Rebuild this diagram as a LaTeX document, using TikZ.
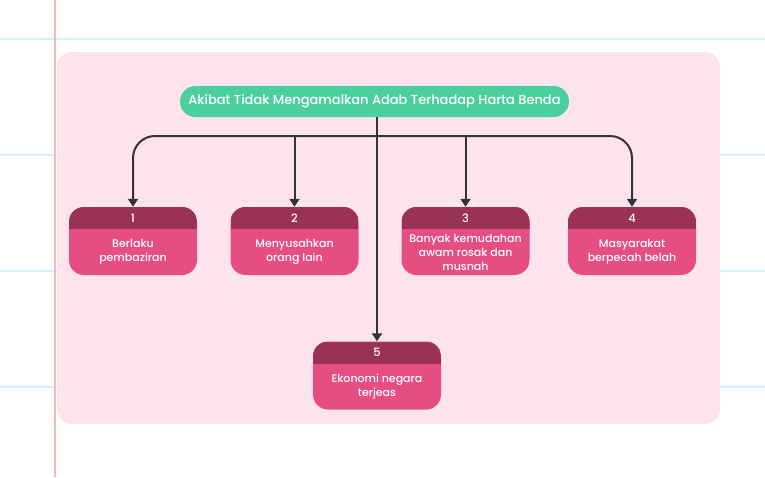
\documentclass[tikz,border=0pt]{standalone}
\usepackage{fontspec}
\setmainfont{Poppins Medium}
\usetikzlibrary{arrows.meta}
\definecolor{panelpink}{HTML}{FDE3EC}
\definecolor{rulblue}{HTML}{D3F0FC}
\definecolor{rulred}{HTML}{F9B6B6}
\definecolor{titlegreen}{HTML}{4CCF9E}
\definecolor{headred}{HTML}{9A3254}
\definecolor{bodyred}{HTML}{E64E80}
\definecolor{linegrey}{HTML}{333333}
\tikzset{
	title/.style={fill=titlegreen, rounded corners=15.5pt, minimum width=389pt, minimum height=31pt, text=white, font=\fontsize{13}{15}\selectfont},
	box/.style={fill=bodyred, rounded corners=15pt, minimum width=128pt, minimum height=68pt, inner sep=0pt,
		path picture={\fill[headred, sharp corners] (path picture bounding box.north west) rectangle ([yshift=-22pt]path picture bounding box.north east);}},
	num/.style={text=white, font=\fontsize{11.5}{13}\selectfont},
	txt/.style={text=white, align=center, font=\fontsize{11}{14}\selectfont},
	arr/.style={draw=linegrey, line width=2pt, -{Triangle[width=10pt,length=8pt]}}
}
\begin{document}
\begin{tikzpicture}[x=1pt,y=-1pt]
	\useasboundingbox (0,0) rectangle (765,477);
	
	\draw[rulblue, line width=2pt] (0,38.5) -- (765,38.5);
	\draw[rulblue, line width=2pt] (0,154.5) -- (765,154.5);
	\draw[rulblue, line width=2pt] (0,270.5) -- (765,270.5);
	\draw[rulblue, line width=2pt] (0,386.5) -- (765,386.5);
	\draw[rulred, line width=2pt] (55,0) -- (55,477);
	\fill[panelpink, rounded corners=15pt] (57,52) rectangle (720,424);
	
	\node[title] (top) at (374.5,101.5) {Akibat Tidak Mengamalkan Adab Terhadap Harta Benda};
	
	\node[box] (b1) at (133,241) {};
	\node[box] (b2) at (294.5,241) {};
	\node[box] (b3) at (465.5,241) {};
	\node[box] (b4) at (632,241) {};
	\node[box] (b5) at (377,375.5) {};
	
	\node[num] (n1) at (133,218) {1};
	\node[num] (n2) at (294.5,218) {2};
	\node[num] (n3) at (465.5,218) {3};
	\node[num] (n4) at (632,218) {4};
	\node[num] (n5) at (377,352.5) {5};
	
	\node[txt] (t1) at (133,252) {Berlaku\\pembaziran};
	\node[txt] (t2) at (294.5,252) {Menyusahkan\\orang lain};
	\node[txt] (t3) at (465.5,252) {Banyak kemudahan\\awam rosak dan\\musnah};
	\node[txt] (t4) at (632,252) {Masyarakat\\berpecah belah};
	\node[txt] (t5) at (377,386.5) {Ekonomi negara\\terjeas};
	
	\coordinate (bus) at (377,136);
	\draw[arr] (top.south -| b5.north) -- (b5.north);
	\draw[arr, rounded corners=22pt] (bus) -| (b1.north);
	\draw[arr, rounded corners=22pt] (bus) -| (b4.north);
	\draw[arr] (bus -| b2.north) -- (b2.north);
	\draw[arr] (bus -| b3.north) -- (b3.north);
\end{tikzpicture}
\end{document}
